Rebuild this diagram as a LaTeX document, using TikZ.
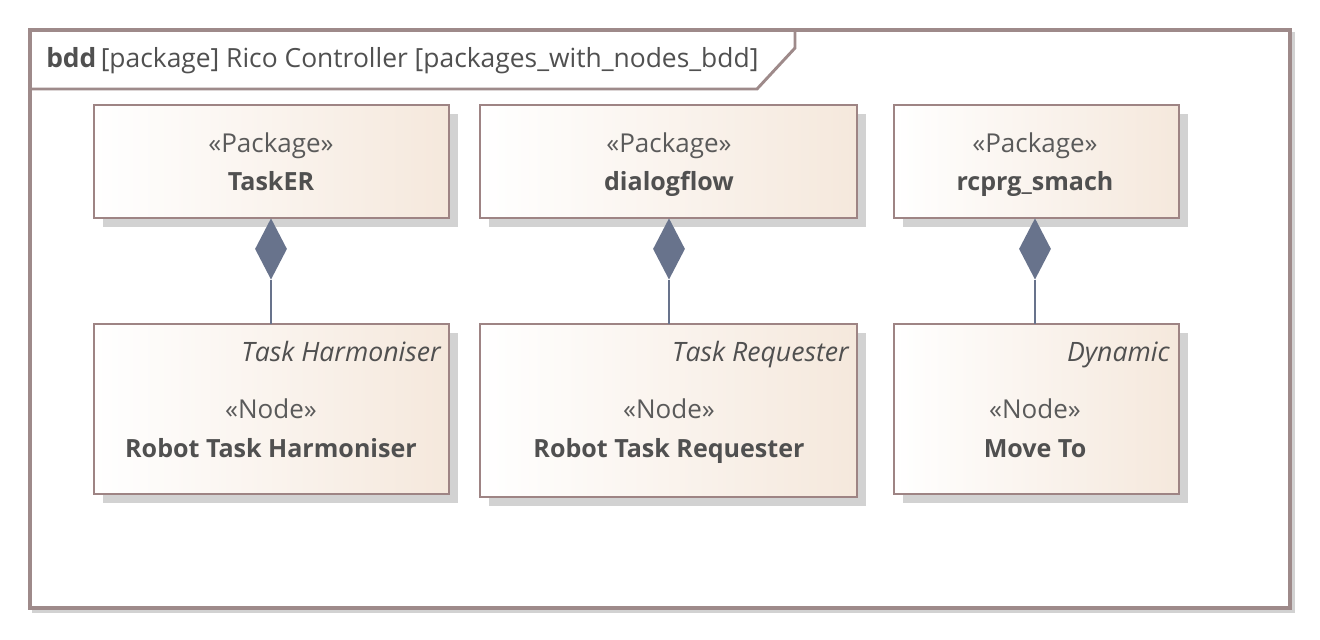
\documentclass[tikz,border=0pt]{standalone}
\usepackage{fontspec}
\setmainfont{Open Sans}
\usetikzlibrary{shapes.geometric}
\definecolor{frameC}{RGB}{158,138,138}
\definecolor{boxC}{RGB}{158,132,132}
\definecolor{shadowC}{RGB}{210,210,210}
\definecolor{fillR}{RGB}{245,232,220}
\definecolor{txtC}{RGB}{80,80,80}
\definecolor{stC}{RGB}{90,90,90}
\definecolor{dmC}{RGB}{104,115,140}
\tikzset{
  blockbox/.style={draw=boxC, line width=2.2pt, left color=white, right color=fillR},
  stereo/.style={text=stC, font=\fontsize{19.5}{22}\selectfont, inner sep=0pt, anchor=base},
  bname/.style={text=txtC, font=\fontsize{18.8}{22}\selectfont\bfseries, inner sep=0pt, anchor=base},
  tagtxt/.style={text=txtC, font=\fontsize{20}{22}\selectfont\itshape, inner sep=0pt, anchor=base east},
  compdiam/.style={diamond, fill=dmC, draw=none, minimum width=24pt, minimum height=46pt, inner sep=0pt, aspect=0.5},
  conn/.style={draw=dmC, line width=2pt},
}
\begin{document}
\begin{tikzpicture}[x=0.75pt,y=-0.75pt]
\useasboundingbox (0,0) rectangle (1320,639);
\fill[white] (0,0) rectangle (1320,639);
% frame
\draw[shadowC, line width=2pt] (32,611.5) -- (1293.5,611.5) -- (1293.5,32);
\draw[frameC, line width=2.4pt] (30,30) rectangle (1290,608);
\draw[frameC, line width=2.2pt] (30,89) -- (757,89) -- (795,48) -- (795,30);
\node[anchor=base west, text=txtC, font=\fontsize{19.8}{22}\selectfont, inner sep=0pt] (title) at (46,67) {\textbf{bdd}\,[package] Rico Controller [packages\_with\_nodes\_bdd]};
% shadows
\foreach \a/\b/\c/\d in {94/105/449/218, 480/105/857/218, 894/105/1179/218, 94/324/449/494, 480/324/857/497, 894/324/1179/494}{
  \fill[shadowC] (\a+9,\b+9) rectangle (\c+9,\d+9);
}
% top boxes
\path[blockbox] (94,105) rectangle (449,218);
\path[blockbox] (480,105) rectangle (857,218);
\path[blockbox] (894,105) rectangle (1179,218);
\coordinate (p1b) at (271,218);
\coordinate (p2b) at (669,218);
\coordinate (p3b) at (1035,218);
\node[stereo] (p1s) at (271,152) {«Package»};
\node[bname] (p1n) at (271,190) {TaskER};
\node[stereo] (p2s) at (669,152) {«Package»};
\node[bname] (p2n) at (669,190) {dialogflow};
\node[stereo] (p3s) at (1035,152) {«Package»};
\node[bname] (p3n) at (1035,190) {rcprg\_smach};
% bottom boxes
\path[blockbox] (94,324) rectangle (449,494);
\path[blockbox] (480,324) rectangle (857,497);
\path[blockbox] (894,324) rectangle (1179,494);
\coordinate (n1t) at (271,324);
\coordinate (n2t) at (669,324);
\coordinate (n3t) at (1035,324);
\node[tagtxt] (n1g) at (441,361) {Task Harmoniser};
\node[stereo] (n1s) at (271,418) {«Node»};
\node[bname] (n1n) at (271,457) {Robot Task Harmoniser};
\node[tagtxt] (n2g) at (849,361) {Task Requester};
\node[stereo] (n2s) at (669,418) {«Node»};
\node[bname] (n2n) at (669,457) {Robot Task Requester};
\node[tagtxt] (n3g) at (1170,361) {Dynamic};
\node[stereo] (n3s) at (1035,418) {«Node»};
\node[bname] (n3n) at (1035,457) {Move To};
% composition connectors
\foreach \i in {1,2,3}{
  \node[compdiam, anchor=north] (d\i) at (p\i b) {};
  \draw[conn] (d\i.south) -- (n\i t);
}
\end{tikzpicture}
\end{document}
